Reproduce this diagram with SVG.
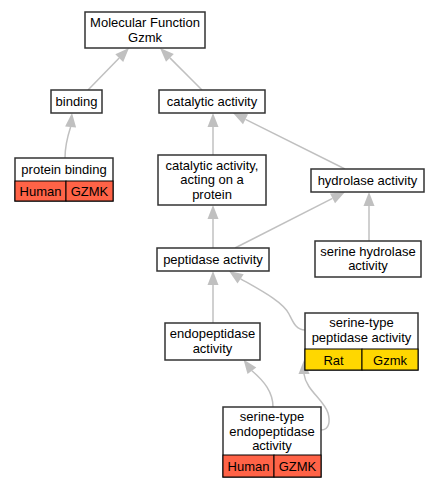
<svg xmlns="http://www.w3.org/2000/svg" width="440" height="488" viewBox="0 0 440 488">
<style>
.box{fill:#fff;stroke:#333;stroke-width:1.5}
.cell{stroke:#000;stroke-width:1}
.hum{fill:#ff6347}
.rat{fill:#ffd700}
text{font-family:"Liberation Sans",Arial,sans-serif;font-size:13px;fill:#000;text-anchor:middle}
.e{fill:none;stroke:#c0c0c0;stroke-width:1.5}
.ah{fill:#c0c0c0}
</style>
<rect width="440" height="488" fill="#fff"/>
<g id="connectors">
<path class="e" d="M88,90 L119.2,58"/><polygon class="ah" points="129,48 123.2,61.9 115.3,54.2"/>
<path class="e" d="M202,90 L169.9,57.9"/><polygon class="ah" points="160,48 173.8,54 166,61.8"/>
<path class="e" d="M65,158 C65,145 68,135 70.6,127"/><polygon class="ah" points="72,113 76.1,127.5 65.1,126.5"/>
<path class="e" d="M213,155 L213,127"/><polygon class="ah" points="213,113 218.5,127 207.5,127"/>
<path class="e" d="M345,169 L245.5,119.3"/><polygon class="ah" points="233,113 248,114.3 243,124.2"/>
<path class="e" d="M213,248 L213,219"/><polygon class="ah" points="213,205 218.5,219 207.5,219"/>
<path class="e" d="M235,248 L332.5,198.4"/><polygon class="ah" points="345,192 335,203.3 330,193.5"/>
<path class="e" d="M369,241 L369,206"/><polygon class="ah" points="369,192 374.5,206 363.5,206"/>
<path class="e" d="M213,323 L213,285"/><polygon class="ah" points="213,271 218.5,285 207.5,285"/>
<path class="e" d="M305,330 C296,330 293,322 289,314 C283,302 262,291 240.6,278.8"/><polygon class="ah" points="229,271 243.7,274.2 237.5,283.4"/>
<path class="e" d="M273,407 C273,392 264,381 251.9,370.7"/><polygon class="ah" points="243.5,359.5 256.3,367.4 247.5,374"/>
<path class="e" d="M321,430 C330,430 330,420 328,413 C324,400 306,390 304,374"/><polygon class="ah" points="304,360 309.5,374 298.5,374"/>
</g>
<g id="n_mf"><rect class="box" x="85" y="12" width="120" height="36"/><text x="145" y="27">Molecular Function</text><text x="145" y="41.5">Gzmk</text></g>
<g id="n_binding"><rect class="box" x="51" y="90" width="51" height="23"/><text x="76.5" y="106">binding</text></g>
<g id="n_catalytic"><rect class="box" x="159" y="90" width="106" height="23"/><text x="212" y="106">catalytic activity</text></g>
<g id="n_protein_binding"><rect class="box" x="15" y="158" width="98" height="43"/><rect class="cell hum" x="15" y="181" width="51" height="20"/><rect class="cell hum" x="66" y="181" width="47" height="20"/><text x="64" y="174">protein binding</text><text x="40.5" y="196">Human</text><text x="89.5" y="196">GZMK</text></g>
<g id="n_cat_protein"><rect class="box" x="158" y="155" width="108" height="50"/><text x="212" y="169.5">catalytic activity,</text><text x="212" y="184">acting on a</text><text x="212" y="198.5">protein</text></g>
<g id="n_hydrolase"><rect class="box" x="311" y="169" width="113" height="23"/><text x="367.5" y="185">hydrolase activity</text></g>
<g id="n_peptidase"><rect class="box" x="157" y="248" width="112" height="23"/><text x="213" y="264">peptidase activity</text></g>
<g id="n_serine_hydrolase"><rect class="box" x="315" y="241" width="106" height="36"/><text x="368" y="255.5">serine hydrolase</text><text x="368" y="270">activity</text></g>
<g id="n_endopeptidase"><rect class="box" x="165" y="323" width="95" height="37"/><text x="212.5" y="338">endopeptidase</text><text x="212.5" y="352.5">activity</text></g>
<g id="n_serine_peptidase"><rect class="box" x="305" y="313" width="113" height="57"/><rect class="cell rat" x="305" y="349" width="57" height="21"/><rect class="cell rat" x="362" y="349" width="56" height="21"/><text x="361.5" y="327">serine-type</text><text x="361.5" y="341.5">peptidase activity</text><text x="333.5" y="364.5">Rat</text><text x="390" y="364.5">Gzmk</text></g>
<g id="n_serine_endopeptidase"><rect class="box" x="223" y="407" width="98" height="70"/><rect class="cell hum" x="223" y="455" width="51" height="22"/><rect class="cell hum" x="274" y="455" width="47" height="22"/><text x="272" y="421">serine-type</text><text x="272" y="435.5">endopeptidase</text><text x="272" y="450">activity</text><text x="248.5" y="470.5">Human</text><text x="297.5" y="470.5">GZMK</text></g>
</svg>
